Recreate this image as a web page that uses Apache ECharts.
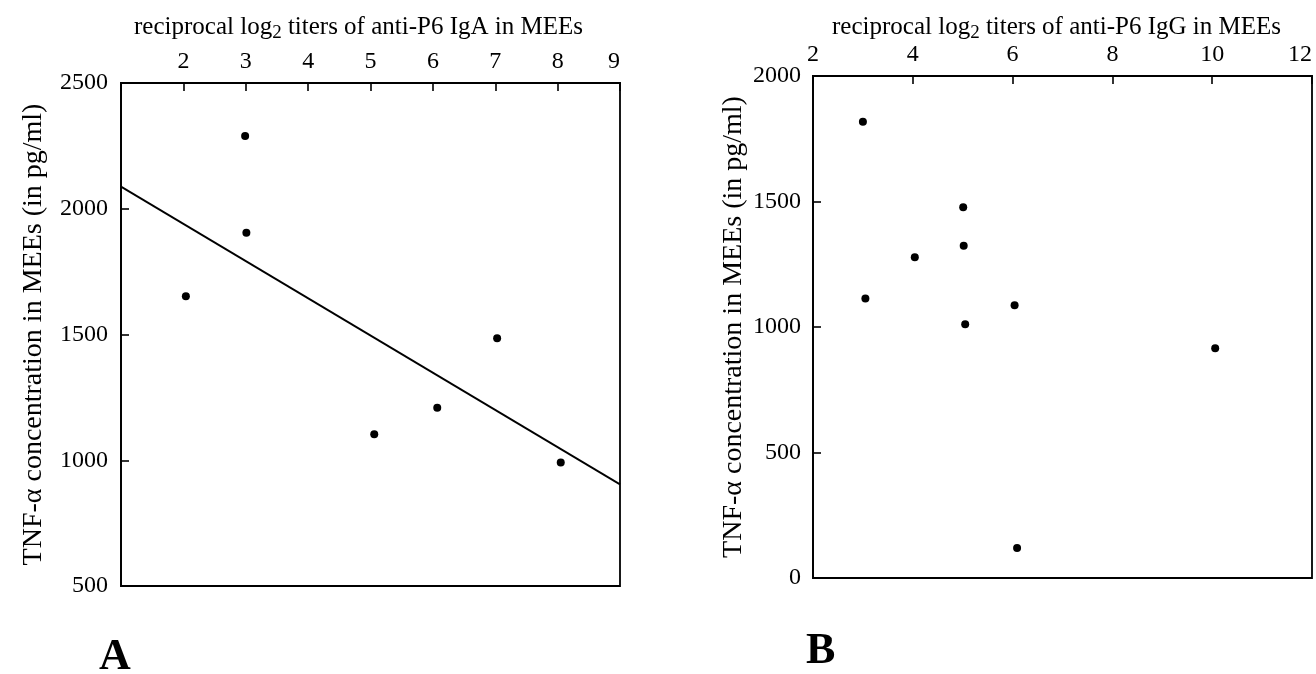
<!DOCTYPE html>
<html>
<head>
<meta charset="utf-8">
<script src="https://cdn.jsdelivr.net/npm/echarts@6/dist/echarts.min.js"></script>
<style>
html,body{margin:0;padding:0;background:#fff;}
#c{width:1316px;height:674px;}
</style>
</head>
<body>
<div id="c"></div>
<script>
// Panel A: IgA titers vs TNF-alpha
const iga_x = [2.04, 2.99, 3.01, 5.06, 6.07, 7.03, 8.05];
const iga_y = [1652, 2289, 1905, 1103, 1209, 1485, 991];
const igaFit_x = [1, 9];
const igaFit_y = [2088, 904];
// Panel B: IgG titers vs TNF-alpha
const igg_x = [3.0, 3.05, 4.04, 5.01, 5.02, 5.05, 6.04, 6.09, 10.06];
const igg_y = [1818, 1114, 1278, 1477, 1324, 1011, 1087, 120, 915];
const titleA = 'reciprocal log';
const titleA2 = ' titers of anti-P6 IgA in MEEs';
const titleB2 = ' titers of anti-P6 IgG in MEEs';
const yTitle = 'TNF-α concentration in MEEs (in pg/ml)';

const FONT = 'Liberation Serif';
const chart = echarts.init(document.getElementById('c'));
const rich = {
  a: {fontFamily: FONT, fontSize: 25, color: '#000', lineHeight: 32},
  s: {fontFamily: FONT, fontSize: 19, color: '#000', lineHeight: 32, verticalAlign: 'bottom'}
};
function xAxis(idx, min, max, interval, tail, gap, hideFirst, padR) {
  return {
    type: 'value', gridIndex: idx, position: 'top', min, max, interval,
    name: '{a|' + titleA + '}{s|2}{a|' + tail + '}',
    nameLocation: 'middle', nameGap: gap, nameMoveOverlap: false,
    nameTextStyle: {rich, padding: [0, padR, 0, 0]},
    axisLine: {show: true, onZero: false, lineStyle: {color: '#000', width: 1.8}},
    axisTick: {show: true, inside: true, length: 8, lineStyle: {color: '#000', width: 1.6}},
    axisLabel: {fontFamily: FONT, fontSize: 24, color: '#000', margin: 9,
      alignMaxLabel: 'right',
      formatter: v => (hideFirst && v === min) ? '' : String(v)},
    splitLine: {show: false}
  };
}
function yAxis(idx, min, max, gap, margin) {
  return {
    type: 'value', gridIndex: idx, min, max, interval: 500,
    name: yTitle, nameLocation: 'middle', nameGap: gap, nameRotate: 90,
    nameTextStyle: {fontFamily: FONT, fontSize: 28, color: '#000'},
    axisLine: {show: true, onZero: false, lineStyle: {color: '#000', width: 1.8}},
    axisTick: {show: true, inside: true, length: 8, lineStyle: {color: '#000', width: 1.6}},
    axisLabel: {fontFamily: FONT, fontSize: 24, color: '#000', margin: margin,
      formatter: v => String(v)},
    splitLine: {show: false}
  };
}
const option = {
  backgroundColor: '#fff',
  animation: false,
  grid: [
    {left: 121, top: 83, width: 499, height: 503, show: true, borderColor: '#000', borderWidth: 1.8,
      containLabel: false, outerBoundsMode: 'none'},
    {left: 813, top: 76, width: 499, height: 502, show: true, borderColor: '#000', borderWidth: 1.8,
      containLabel: false, outerBoundsMode: 'none'}
  ],
  xAxis: [
    xAxis(0, 1, 9, 1, titleA2, 40, true, 24),
    xAxis(1, 2, 12, 2, titleB2, 33, false, 12)
  ],
  yAxis: [
    yAxis(0, 500, 2500, 73, 13),
    yAxis(1, 0, 2000, 65, 12)
  ],
  graphic: [
    {type: 'text', left: 99, top: 636, style: {text: 'A', fontFamily: FONT, fontSize: 44, fontWeight: 'bold', fill: '#000'}},
    {type: 'text', left: 806, top: 630, style: {text: 'B', fontFamily: FONT, fontSize: 44, fontWeight: 'bold', fill: '#000'}}
  ],
  series: [
    {type: 'scatter', xAxisIndex: 0, yAxisIndex: 0, symbolSize: 8, itemStyle: {color: '#000', opacity: 1},
      data: iga_x.map((x, i) => [x, iga_y[i]])},
    {type: 'line', xAxisIndex: 0, yAxisIndex: 0, showSymbol: false, symbol: 'none',
      lineStyle: {color: '#000', width: 1.8},
      data: igaFit_x.map((x, i) => [x, igaFit_y[i]])},
    {type: 'scatter', xAxisIndex: 1, yAxisIndex: 1, symbolSize: 8, itemStyle: {color: '#000', opacity: 1},
      data: igg_x.map((x, i) => [x, igg_y[i]])}
  ]
};
chart.setOption(option);
</script>
</body>
</html>
